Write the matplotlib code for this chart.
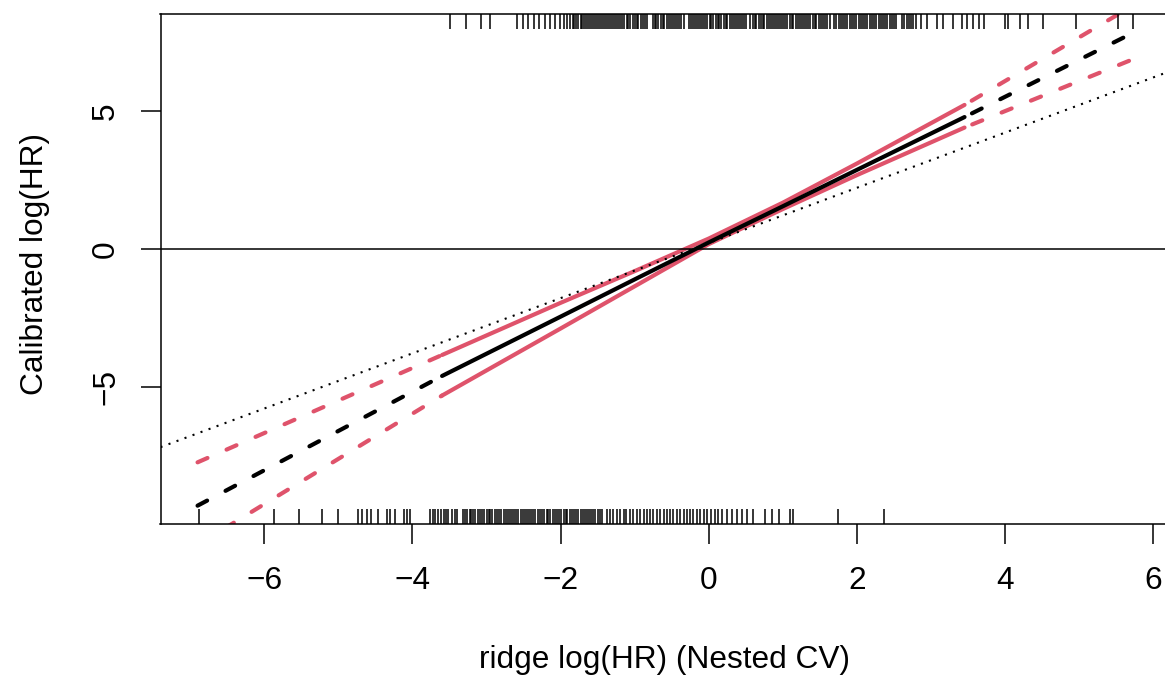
import matplotlib
matplotlib.use("Agg")
import matplotlib.pyplot as plt
import matplotlib.transforms as mtransforms

# ---- data ----
x_solid = [-3.6, -2.0, -1.0, 0.0, 1.0, 2.0, 3.45]
fit_solid = [-4.6, -2.45, -1.1, 0.24, 1.55, 2.87, 4.78]
upper_solid = [-3.84, -1.95, -0.8, 0.38, 1.68, 3.1, 5.22]
lower_solid = [-5.31, -2.88, -1.35, 0.18, 1.45, 2.68, 4.40]

x_left = [-6.9, -3.6]
fit_left = [-9.3, -4.6]
upper_left = [-7.73, -3.84]
lower_left = [-10.72, -5.31]

x_right = [3.45, 5.7]
fit_right = [4.78, 7.8]
upper_right = [5.22, 8.78]
lower_right = [4.40, 6.85]

ref_intercept = 0.22
ref_slope = 1.0

rug_top = [-3.50, -3.28, -3.07, -2.96,
           -2.59, -2.51, -2.44, -2.36, -2.29, -2.21, -2.14, -2.08, -2.01, -1.95,
           -1.91, -1.88, -1.84, -1.82, -1.79, -1.76, -1.73, -1.71, -1.68, -1.66, -1.63,
           -1.60, -1.58, -1.55, -1.52, -1.50, -1.47, -1.44, -1.41, -1.39, -1.36, -1.33,
           -1.31, -1.28, -1.25, -1.22, -1.20, -1.17, -1.14, -1.11, -1.09, -1.06, -1.03,
           -1.00, -0.97, -0.95, -0.92, -0.89, -0.86, -0.83, -0.76, -0.73, -0.71, -0.68,
           -0.65, -0.62, -0.60, -0.57, -0.54, -0.51, -0.49, -0.46, -0.43, -0.40, -0.37,
           -0.34, -0.27, -0.24, -0.21, -0.19, -0.16, -0.13, -0.10, -0.08, -0.05, -0.02,
           0.01, 0.03, 0.06, 0.09, 0.12, 0.14, 0.17, 0.20, 0.23, 0.25, 0.28, 0.31, 0.34,
           0.36, 0.39, 0.42, 0.45, 0.48, 0.50, 0.56, 0.59, 0.62, 0.64, 0.67, 0.70, 0.73,
           0.75, 0.78, 0.81, 0.84, 0.87, 0.89, 0.92, 0.95, 0.98, 1.00, 1.03, 1.06, 1.09,
           1.12, 1.14, 1.17, 1.20, 1.23, 1.26, 1.28, 1.31, 1.34, 1.37, 1.40, 1.43, 1.45,
           1.48, 1.51, 1.54, 1.57, 1.60, 1.63, 1.69, 1.72, 1.75, 1.78, 1.81, 1.84, 1.87,
           1.90, 1.93, 1.96, 1.99, 2.02, 2.05, 2.08, 2.11, 2.14, 2.17, 2.20, 2.23, 2.26,
           2.29, 2.32, 2.35, 2.38, 2.41, 2.44, 2.47, 2.50, 2.53, 2.61, 2.64, 2.67, 2.70,
           2.73, 2.76, 2.79,
           2.86, 2.94, 3.08, 3.16, 3.30, 3.42, 3.49, 3.57, 3.64, 3.71,
           3.99, 4.04, 4.20, 4.31, 4.51, 4.95, 5.52, 5.73]

rug_bottom = [-6.88, -5.87, -5.53, -5.22, -5.01,
              -4.74, -4.68, -4.61, -4.56, -4.46, -4.34, -4.30, -4.23, -4.12, -4.07, -4.03,
              -3.76, -3.72, -3.69, -3.65, -3.62, -3.58, -3.55, -3.52, -3.47, -3.43, -3.40,
              -3.32, -3.29, -3.26, -3.23, -3.21, -3.18, -3.15, -3.12, -3.09, -3.06, -3.03,
              -3.00, -2.97, -2.95, -2.92, -2.89, -2.86, -2.83, -2.80, -2.77, -2.74, -2.71,
              -2.69, -2.66, -2.63, -2.60, -2.57, -2.54, -2.51, -2.48, -2.45, -2.43, -2.40,
              -2.37, -2.34, -2.31, -2.28, -2.25, -2.22, -2.19, -2.17, -2.14, -2.11, -2.08,
              -2.05, -2.02, -1.99, -1.96, -1.93, -1.91, -1.88, -1.85, -1.82, -1.79, -1.76,
              -1.73, -1.70, -1.67, -1.65, -1.62, -1.59, -1.56, -1.53, -1.50, -1.47, -1.44,
              -1.38, -1.33, -1.29, -1.24, -1.20, -1.15, -1.12, -1.06, -1.02, -0.97, -0.93,
              -0.88, -0.84, -0.79, -0.75, -0.70, -0.66, -0.61, -0.57, -0.52, -0.48, -0.43,
              -0.39, -0.34, -0.30, -0.25, -0.21, -0.16,
              -0.12, -0.07, -0.02, 0.03, 0.08, 0.13, 0.18, 0.25,
              0.31, 0.38, 0.45, 0.51, 0.60, 0.76, 0.85, 0.94, 1.10, 1.14, 1.74, 2.37]

x_ticks = [-6, -4, -2, 0, 2, 4, 6]
y_ticks = [-5, 0, 5]
x_label = "ridge log(HR) (Nested CV)"
y_label = "Calibrated log(HR)"

# ---- styling ----
plt.rcParams['font.family'] = ['Liberation Sans', 'DejaVu Sans']
FS = 22.8
RED = "#DF536B"
W, H = 1165, 679
fig = plt.figure(figsize=(W / 100, H / 100), dpi=100)

left_px, right_px, top_px, bottom_px = 160.5, 1168.3, 13.6, 524.0
ax = fig.add_axes([left_px / W, 1 - bottom_px / H,
                   (right_px - left_px) / W, (bottom_px - top_px) / H])
ax.set_xlim(-7.40, 6.20)
ax.set_ylim(-9.964, 8.529)

lw = 3.0
dash_left = (0, (2.6, 5.0))
dash_right = (5.6, (2.6, 5.0))

# dashed extrapolations
for xs, ys, c in [(x_left, fit_left, 'black'), (x_left, upper_left, RED), (x_left, lower_left, RED)]:
    ax.plot(xs, ys, color=c, lw=lw, linestyle=dash_left, dash_capstyle='round')
for xs, ys, c in [(x_right, fit_right, 'black'), (x_right, upper_right, RED), (x_right, lower_right, RED)]:
    ax.plot(xs, ys, color=c, lw=lw, linestyle=dash_right, dash_capstyle='round')

# solid parts
ax.plot(x_solid, upper_solid, color=RED, lw=lw, solid_capstyle='round')
ax.plot(x_solid, lower_solid, color=RED, lw=lw, solid_capstyle='round')
ax.plot(x_solid, fit_solid, color='black', lw=lw, solid_capstyle='round')

# reference lines
ax.axline((0, ref_intercept), slope=ref_slope, color='black', lw=1.5, linestyle=(0, (1, 3.1)))
ax.axhline(0, color='black', lw=1.1)

# rugs
trans = mtransforms.blended_transform_factory(ax.transData, ax.transAxes)
for v in rug_top:
    ax.plot([v, v], [1.0, 0.97], color='black', lw=1.1, transform=trans, solid_capstyle='butt')
for v in rug_bottom:
    ax.plot([v, v], [0.0, 0.03], color='black', lw=1.1, transform=trans, solid_capstyle='butt')

# axes styling
ax.spines['right'].set_visible(False)
for s in ['left', 'top', 'bottom']:
    ax.spines[s].set_linewidth(1.1)
ax.set_xticks(x_ticks)
ax.set_yticks(y_ticks)
ax.set_xticklabels([str(t).replace('-', '\u2212') for t in x_ticks])
ax.set_yticklabels([str(t).replace('-', '\u2212') for t in y_ticks], rotation=90, va='center')
ax.tick_params(axis='both', direction='out', length=14.4, width=1.1, labelsize=FS)
ax.tick_params(axis='x', pad=16)
ax.tick_params(axis='y', pad=14)

fig.text((left_px + right_px) / 2 / W, 1 - 660 / H, x_label, ha='center', va='center', fontsize=FS)
fig.text(35 / W, 1 - 264 / H, y_label, ha='center', va='center',
         rotation=90, fontsize=FS)

fig.savefig("out.png", dpi=100)
